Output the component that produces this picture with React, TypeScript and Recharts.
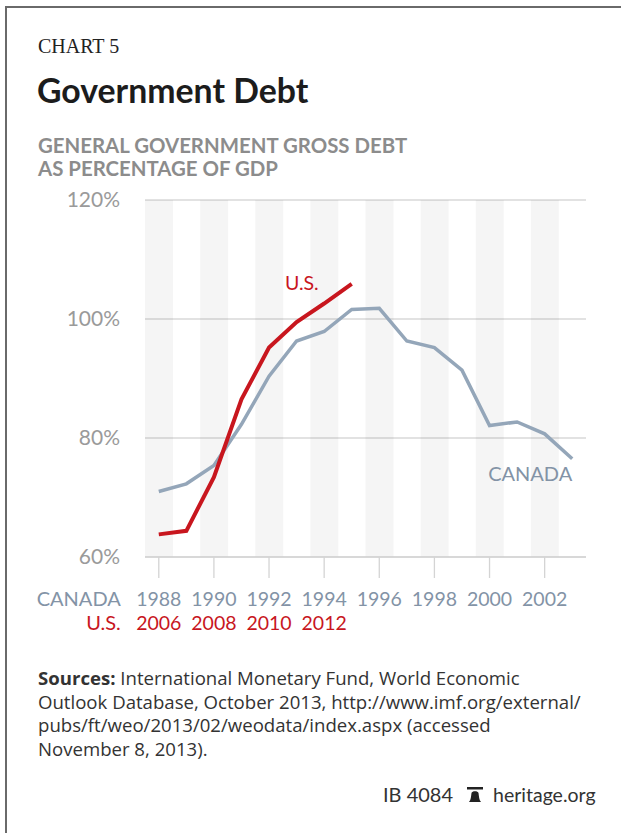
import React from 'react';
import { ComposedChart, Bar, Line, XAxis, YAxis, CartesianGrid } from 'recharts';

// Canada's years line up with the U.S. years 18 years later
const canadaYears = ['1988', '1989', '1990', '1991', '1992', '1993', '1994', '1995', '1996', '1997', '1998', '1999', '2000', '2001', '2002', '2003'];
const canadaDebt = [71.0, 72.3, 75.4, 82.3, 90.4, 96.3, 97.9, 101.6, 101.8, 96.3, 95.2, 91.4, 82.1, 82.7, 80.7, 76.5];
const usYears = ['2006', '2007', '2008', '2009', '2010', '2011', '2012', '2013'];
const usDebt = [63.8, 64.4, 73.4, 86.5, 95.2, 99.5, 102.6, 105.9];
const yTicks = [60, 80, 100, 120];

const FONT = 'Lato, "Open Sans", sans-serif';
const BODY_FONT = '"Open Sans", Lato, sans-serif';
const RED = '#c8161e';
const BLUE = '#94a6b9';
const BLUE_TEXT = '#8393a6';

const data = canadaYears.map((year, i) => ({
  year,
  usYear: usYears[i] ?? null,
  canada: canadaDebt[i],
  us: usDebt[i] ?? null,
  // shaded band behind every other year
  stripe: Number(year) % 2 === 0 ? yTicks[yTicks.length - 1] : null,
}));

function YearTick(props: any) {
  const { x, y, payload } = props;
  const row = data[payload.index];
  return (
    <g>
      {payload.index === 0 && (
        <>
          <text x={x - 38} y={y + 26} textAnchor="end" fill={BLUE_TEXT} fontSize={20} fontFamily={FONT}>CANADA</text>
          <text x={x - 38} y={y + 50} textAnchor="end" fill={RED} fontSize={20} fontFamily={FONT}>U.S.</text>
        </>
      )}
      <text x={x} y={y + 26} textAnchor="middle" fill={BLUE_TEXT} fontSize={19.5} fontFamily={FONT}>{payload.value}</text>
      {row && row.us != null && (
        <text x={x} y={y + 50} textAnchor="middle" fill={RED} fontSize={19.5} fontFamily={FONT}>{row.usYear}</text>
      )}
    </g>
  );
}

const canadaLabel = (p: any) =>
  p.index === canadaDebt.length - 1 ? (
    <text key="cl" x={p.x} y={p.y + 22} textAnchor="end" fill={BLUE_TEXT} fontSize={20} fontFamily={FONT}>CANADA</text>
  ) : null;

const usLabel = (p: any) =>
  p.index === usDebt.length - 1 ? (
    <text key="ul" x={p.x - 33} y={p.y + 6} textAnchor="end" fill={RED} fontSize={19.5} fontFamily={FONT}>U.S.</text>
  ) : null;

export default function App() {
  return (
    <div style={{ position: 'absolute', left: 0, top: 0, width: 621, height: 833, overflow: 'hidden', background: '#fff' }}>
      <div
        style={{
          position: 'absolute',
          left: 5,
          top: 6,
          width: 700,
          height: 900,
          borderTop: '2px solid #6a6a6a',
          borderLeft: '2px solid #6a6a6a',
        }}
      />
      <div style={{ position: 'absolute', left: 0, top: 0 }}>
        <ComposedChart
          width={621}
          height={637}
          data={data}
          margin={{ top: 200, right: 35, bottom: 0, left: 0 }}
          barCategoryGap={0}
        >
          <Bar dataKey="stripe" fill="#000" fillOpacity={0.04} isAnimationActive={false} />
          <CartesianGrid vertical={false} stroke="#d9d9d9" strokeWidth={1.3} />
          <XAxis
            dataKey="year"
            interval={1}
            height={80}
            tickSize={21}
            tickMargin={2}
            tickLine={{ stroke: '#d4d4d4', strokeWidth: 1.3 }}
            axisLine={{ stroke: '#d4d4d4', strokeWidth: 1.5 }}
            tick={<YearTick />}
          />
          <YAxis
            domain={[60, 120]}
            ticks={yTicks}
            width={145}
            axisLine={false}
            tickLine={false}
            tickSize={0}
            tickMargin={25}
            tickFormatter={(v: number) => `${v}%`}
            tick={{ fill: '#9a9a9a', fontSize: 21, fontFamily: FONT }}
          />
          <Line
            dataKey="canada"
            stroke={BLUE}
            strokeWidth={3.5}
            dot={false}
            isAnimationActive={false}
            label={canadaLabel}
          />
          <Line
            dataKey="us"
            stroke={RED}
            strokeWidth={4}
            dot={false}
            isAnimationActive={false}
            label={usLabel}
          />
        </ComposedChart>
      </div>
      <svg width={621} height={833} style={{ position: 'absolute', left: 0, top: 0, pointerEvents: 'none' }}>
        <text x={38} y={53} fontFamily='"Liberation Serif", serif' fontSize={20} fill="#222">CHART 5</text>
        <text x={37} y={103} fontFamily={FONT} fontWeight={700} fontSize={33.8} fill="#1c1c1c">Government Debt</text>
        <text x={38} y={153} fontFamily={FONT} fontWeight={700} fontSize={20.4} fill="#8c8c8c">GENERAL GOVERNMENT GROSS DEBT</text>
        <text x={38} y={176} fontFamily={FONT} fontWeight={700} fontSize={20.4} fill="#8c8c8c">AS PERCENTAGE OF GDP</text>

        <g fontFamily={BODY_FONT} fontSize={18.6} fill="#333">
          <text x={38} y={685}>
            <tspan fontWeight={700}>Sources:</tspan> International Monetary Fund, World Economic
          </text>
          <text x={38} y={708.5}>Outlook Database, October 2013, http://www.imf.org/external/</text>
          <text x={38} y={732}>pubs/ft/weo/2013/02/weodata/index.aspx (accessed</text>
          <text x={38} y={755.5}>November 8, 2013).</text>
        </g>

        <text x={383} y={802} fontFamily={FONT} fontSize={20} fill="#333">IB 4084</text>
        <path d="M467 787 h16 v2.5 h-16 z M469 802 C471 800 471 796 471.5 793 C472 790.5 478 790.5 478.5 793 C479 796 479 800 481 802 Z" fill="#222" />
        <text x={493} y={802} fontFamily={FONT} fontSize={19.5} fill="#333">heritage.org</text>
      </svg>
    </div>
  );
}
